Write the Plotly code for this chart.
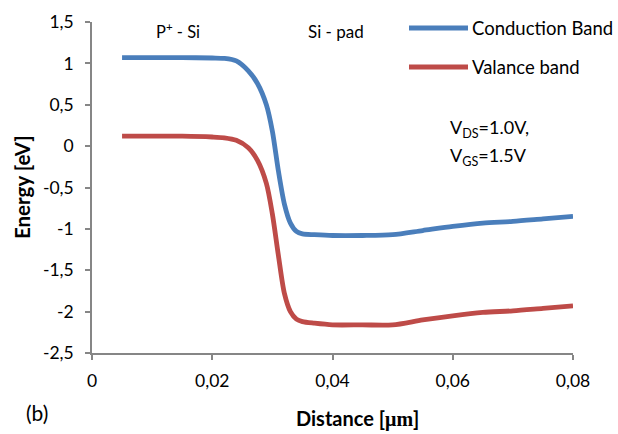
import plotly.graph_objects as go

# ---- data ----
distance_um = [0.005, 0.01, 0.015, 0.02, 0.022, 0.024, 0.026, 0.0275, 0.029, 0.030,
               0.031, 0.032, 0.033, 0.034, 0.035, 0.037, 0.04, 0.045, 0.05, 0.055,
               0.06, 0.065, 0.07, 0.075, 0.08]
conduction_band = [1.07, 1.07, 1.07, 1.065, 1.06, 1.03, 0.91, 0.76, 0.50, 0.18,
                   -0.30, -0.70, -0.93, -1.03, -1.06, -1.07, -1.08, -1.08, -1.07, -1.02,
                   -0.97, -0.93, -0.91, -0.88, -0.85]
valence_band = [0.12, 0.12, 0.12, 0.11, 0.10, 0.07, -0.02, -0.17, -0.45, -0.82,
                -1.32, -1.78, -2.00, -2.09, -2.12, -2.14, -2.16, -2.16, -2.16, -2.10,
                -2.05, -2.01, -1.99, -1.96, -1.93]

x_tickvals = [0, 0.02, 0.04, 0.06, 0.08]
x_ticktext = ["0", "0,02", "0,04", "0,06", "0,08"]
y_tickvals = [1.5, 1, 0.5, 0, -0.5, -1, -1.5, -2, -2.5]
y_ticktext = ["1,5", "1", "0,5", "0", "-0,5", "-1", "-1,5", "-2", "-2,5"]

series_names = ["Conduction Band", "Valance band"]
series_colors = ["#4A7EBB", "#BE4B48"]

FONT = "Lato, 'Open Sans', sans-serif"
AXIS_COLOR = "#868686"

W, H = 618, 434
ML, MR, MT, MB = 92, 45, 22, 81
PW, PH = W - ML - MR, H - MT - MB


def px_to_paper(px, py):
    return (px - ML) / PW, 1 - (py - MT) / PH


fig = go.Figure()
for name, ys, col in zip(series_names, [conduction_band, valence_band], series_colors):
    fig.add_trace(go.Scatter(
        x=distance_um, y=ys, mode="lines", name=name,
        line=dict(color=col, width=4.8, shape="spline", smoothing=0.8),
        showlegend=False,
    ))

# custom legend (samples + labels)
legend_rows = [28, 67]
shapes = []
annotations = []
for name, col, yy in zip(series_names, series_colors, legend_rows):
    x0, y0 = px_to_paper(409, yy)
    x1, _ = px_to_paper(468, yy)
    shapes.append(dict(type="line", xref="paper", yref="paper", x0=x0, x1=x1, y0=y0, y1=y0,
                       line=dict(color=col, width=4.8)))
    tx, ty = px_to_paper(470, yy)
    annotations.append(dict(xref="paper", yref="paper", x=tx, y=ty, text=name, showarrow=False,
                            xanchor="left", yanchor="middle",
                            font=dict(family=FONT, size=18.5, color="#000000")))


def add_text(px, py, text, size=17, xanchor="center", angle=0):
    x, y = px_to_paper(px, py)
    annotations.append(dict(xref="paper", yref="paper", x=x, y=y, text=text, showarrow=False,
                            xanchor=xanchor, yanchor="middle", textangle=angle,
                            font=dict(family=FONT, size=size, color="#000000")))


add_text(154, 31, "P<sup>+</sup> - Si", size=16.5, xanchor="left")
add_text(306, 31, "Si - pad", size=17, xanchor="left")
add_text(448, 128, "V<sub>DS</sub>=1.0V,", size=18, xanchor="left")
add_text(448, 156, "V<sub>GS</sub>=1.5V", size=18, xanchor="left")
add_text(37, 412, "(b)", size=21)
add_text(357, 418, "<b>Distance [<span style='font-family:Liberation Serif, serif'>μm</span>]</b>", size=20)
add_text(22, 187, "<b>Energy [eV]</b>", size=20.5, angle=-90)

fig.update_layout(
    width=W, height=H,
    margin=dict(l=ML, r=MR, t=MT, b=MB, pad=0),
    paper_bgcolor="white", plot_bgcolor="white",
    font=dict(family=FONT, size=17, color="#000000"),
    shapes=shapes, annotations=annotations,
    showlegend=False,
)
fig.update_xaxes(
    range=[0, 0.08], tickvals=x_tickvals, ticktext=x_ticktext,
    showgrid=False, zeroline=False, showline=True, linecolor=AXIS_COLOR, linewidth=1.5,
    ticks="outside", ticklen=5, tickcolor=AXIS_COLOR, tickwidth=1.5,
    tickfont=dict(family=FONT, size=17.5), ticklabelstandoff=6, fixedrange=True,
)
fig.update_yaxes(
    range=[-2.5, 1.5], tickvals=y_tickvals, ticktext=y_ticktext,
    showgrid=False, zeroline=False, showline=True, linecolor=AXIS_COLOR, linewidth=1.5,
    ticks="outside", ticklen=5, tickcolor=AXIS_COLOR, tickwidth=1.5,
    tickfont=dict(family=FONT, size=17.5), ticklabelstandoff=8, fixedrange=True,
)

fig.write_html("out.html", config={"displayModeBar": False},
               post_script="document.body.style.margin='0';document.body.style.overflow='hidden';")
